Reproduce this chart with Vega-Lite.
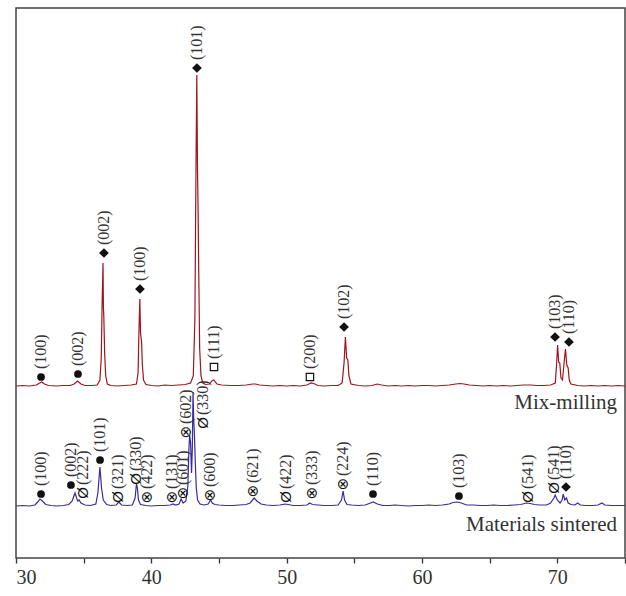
{
  "$schema": "https://vega.github.io/schema/vega-lite/v6.json",
  "width": 609,
  "height": 550,
  "autosize": "none",
  "padding": {"left": 16, "top": 8, "right": 1, "bottom": 38},
  "background": "white",
  "config": {
    "view": {"stroke": "#444", "strokeWidth": 1.5},
    "font": "Liberation Serif"
  },
  "datasets": {
    "pattern": [
      {"s": "Mix-milling", "x": 30.0, "y": 172}, {"s": "Mix-milling", "x": 30.5, "y": 172.5}, {"s": "Mix-milling", "x": 31.0, "y": 172}, {"s": "Mix-milling", "x": 31.5, "y": 173},
      {"s": "Mix-milling", "x": 31.75, "y": 175}, {"s": "Mix-milling", "x": 31.9, "y": 176}, {"s": "Mix-milling", "x": 32.1, "y": 174}, {"s": "Mix-milling", "x": 32.4, "y": 172.5},
      {"s": "Mix-milling", "x": 33.0, "y": 172}, {"s": "Mix-milling", "x": 33.5, "y": 172.5}, {"s": "Mix-milling", "x": 34.0, "y": 172.5}, {"s": "Mix-milling", "x": 34.3, "y": 174},
      {"s": "Mix-milling", "x": 34.55, "y": 177}, {"s": "Mix-milling", "x": 34.8, "y": 174}, {"s": "Mix-milling", "x": 35.1, "y": 172.5}, {"s": "Mix-milling", "x": 35.6, "y": 172.5},
      {"s": "Mix-milling", "x": 36.0, "y": 173}, {"s": "Mix-milling", "x": 36.2, "y": 178}, {"s": "Mix-milling", "x": 36.3, "y": 200}, {"s": "Mix-milling", "x": 36.37, "y": 260},
      {"s": "Mix-milling", "x": 36.43, "y": 295}, {"s": "Mix-milling", "x": 36.46, "y": 250}, {"s": "Mix-milling", "x": 36.49, "y": 241}, {"s": "Mix-milling", "x": 36.55, "y": 205},
      {"s": "Mix-milling", "x": 36.63, "y": 182}, {"s": "Mix-milling", "x": 36.75, "y": 174}, {"s": "Mix-milling", "x": 37.0, "y": 172.5}, {"s": "Mix-milling", "x": 37.5, "y": 172},
      {"s": "Mix-milling", "x": 38.0, "y": 172.5}, {"s": "Mix-milling", "x": 38.5, "y": 173}, {"s": "Mix-milling", "x": 38.9, "y": 174}, {"s": "Mix-milling", "x": 39.02, "y": 185},
      {"s": "Mix-milling", "x": 39.09, "y": 230}, {"s": "Mix-milling", "x": 39.15, "y": 259}, {"s": "Mix-milling", "x": 39.2, "y": 225}, {"s": "Mix-milling", "x": 39.28, "y": 216},
      {"s": "Mix-milling", "x": 39.33, "y": 195}, {"s": "Mix-milling", "x": 39.42, "y": 178}, {"s": "Mix-milling", "x": 39.6, "y": 173.5}, {"s": "Mix-milling", "x": 40.0, "y": 172.5},
      {"s": "Mix-milling", "x": 40.5, "y": 172}, {"s": "Mix-milling", "x": 41.0, "y": 173}, {"s": "Mix-milling", "x": 41.5, "y": 172.5}, {"s": "Mix-milling", "x": 42.0, "y": 173},
      {"s": "Mix-milling", "x": 42.5, "y": 173.5}, {"s": "Mix-milling", "x": 42.9, "y": 175}, {"s": "Mix-milling", "x": 43.1, "y": 182}, {"s": "Mix-milling", "x": 43.22, "y": 240},
      {"s": "Mix-milling", "x": 43.3, "y": 390}, {"s": "Mix-milling", "x": 43.36, "y": 483}, {"s": "Mix-milling", "x": 43.41, "y": 390}, {"s": "Mix-milling", "x": 43.46, "y": 343},
      {"s": "Mix-milling", "x": 43.5, "y": 290}, {"s": "Mix-milling", "x": 43.57, "y": 210}, {"s": "Mix-milling", "x": 43.67, "y": 182}, {"s": "Mix-milling", "x": 43.8, "y": 175},
      {"s": "Mix-milling", "x": 44.0, "y": 173.5}, {"s": "Mix-milling", "x": 44.3, "y": 174}, {"s": "Mix-milling", "x": 44.5, "y": 177.5}, {"s": "Mix-milling", "x": 44.62, "y": 178},
      {"s": "Mix-milling", "x": 44.85, "y": 174}, {"s": "Mix-milling", "x": 45.2, "y": 173}, {"s": "Mix-milling", "x": 45.8, "y": 172.5}, {"s": "Mix-milling", "x": 46.5, "y": 172.5},
      {"s": "Mix-milling", "x": 47.0, "y": 173}, {"s": "Mix-milling", "x": 47.5, "y": 174}, {"s": "Mix-milling", "x": 47.7, "y": 174}, {"s": "Mix-milling", "x": 48.0, "y": 173},
      {"s": "Mix-milling", "x": 48.5, "y": 172.5}, {"s": "Mix-milling", "x": 49.0, "y": 172}, {"s": "Mix-milling", "x": 49.5, "y": 172.5}, {"s": "Mix-milling", "x": 50.0, "y": 172},
      {"s": "Mix-milling", "x": 50.5, "y": 172.5}, {"s": "Mix-milling", "x": 51.0, "y": 172}, {"s": "Mix-milling", "x": 51.5, "y": 173}, {"s": "Mix-milling", "x": 51.8, "y": 175},
      {"s": "Mix-milling", "x": 52.0, "y": 174.5}, {"s": "Mix-milling", "x": 52.3, "y": 172.5}, {"s": "Mix-milling", "x": 52.8, "y": 172}, {"s": "Mix-milling", "x": 53.3, "y": 172.5},
      {"s": "Mix-milling", "x": 53.8, "y": 172.5}, {"s": "Mix-milling", "x": 54.1, "y": 175}, {"s": "Mix-milling", "x": 54.24, "y": 195}, {"s": "Mix-milling", "x": 54.34, "y": 221},
      {"s": "Mix-milling", "x": 54.43, "y": 200}, {"s": "Mix-milling", "x": 54.52, "y": 198}, {"s": "Mix-milling", "x": 54.6, "y": 182}, {"s": "Mix-milling", "x": 54.75, "y": 174},
      {"s": "Mix-milling", "x": 55.3, "y": 172.5}, {"s": "Mix-milling", "x": 55.8, "y": 172}, {"s": "Mix-milling", "x": 56.3, "y": 172.5}, {"s": "Mix-milling", "x": 56.7, "y": 174},
      {"s": "Mix-milling", "x": 57.0, "y": 173}, {"s": "Mix-milling", "x": 57.5, "y": 172}, {"s": "Mix-milling", "x": 58.0, "y": 172.5}, {"s": "Mix-milling", "x": 58.5, "y": 172},
      {"s": "Mix-milling", "x": 59.0, "y": 172.5}, {"s": "Mix-milling", "x": 59.5, "y": 172}, {"s": "Mix-milling", "x": 60.0, "y": 172.5}, {"s": "Mix-milling", "x": 60.5, "y": 172.5},
      {"s": "Mix-milling", "x": 61.0, "y": 172}, {"s": "Mix-milling", "x": 61.5, "y": 172.5}, {"s": "Mix-milling", "x": 62.0, "y": 173}, {"s": "Mix-milling", "x": 62.5, "y": 174},
      {"s": "Mix-milling", "x": 62.8, "y": 174.5}, {"s": "Mix-milling", "x": 63.1, "y": 174}, {"s": "Mix-milling", "x": 63.5, "y": 173}, {"s": "Mix-milling", "x": 64.0, "y": 172.5},
      {"s": "Mix-milling", "x": 64.5, "y": 172}, {"s": "Mix-milling", "x": 65.0, "y": 172.5}, {"s": "Mix-milling", "x": 65.5, "y": 172}, {"s": "Mix-milling", "x": 66.0, "y": 172.5},
      {"s": "Mix-milling", "x": 66.5, "y": 172}, {"s": "Mix-milling", "x": 67.0, "y": 172.5}, {"s": "Mix-milling", "x": 67.5, "y": 173}, {"s": "Mix-milling", "x": 68.0, "y": 173},
      {"s": "Mix-milling", "x": 68.5, "y": 172.5}, {"s": "Mix-milling", "x": 69.0, "y": 172.5}, {"s": "Mix-milling", "x": 69.5, "y": 173}, {"s": "Mix-milling", "x": 69.85, "y": 175},
      {"s": "Mix-milling", "x": 69.95, "y": 195}, {"s": "Mix-milling", "x": 70.02, "y": 213}, {"s": "Mix-milling", "x": 70.1, "y": 196}, {"s": "Mix-milling", "x": 70.18, "y": 195},
      {"s": "Mix-milling", "x": 70.27, "y": 180}, {"s": "Mix-milling", "x": 70.38, "y": 178}, {"s": "Mix-milling", "x": 70.5, "y": 195}, {"s": "Mix-milling", "x": 70.6, "y": 209},
      {"s": "Mix-milling", "x": 70.7, "y": 193}, {"s": "Mix-milling", "x": 70.8, "y": 190}, {"s": "Mix-milling", "x": 70.88, "y": 178}, {"s": "Mix-milling", "x": 71.0, "y": 174},
      {"s": "Mix-milling", "x": 71.5, "y": 172.5}, {"s": "Mix-milling", "x": 72.0, "y": 172}, {"s": "Mix-milling", "x": 72.5, "y": 172.5}, {"s": "Mix-milling", "x": 73.0, "y": 172},
      {"s": "Mix-milling", "x": 73.5, "y": 172.5}, {"s": "Mix-milling", "x": 74.0, "y": 172}, {"s": "Mix-milling", "x": 74.5, "y": 172.5}, {"s": "Mix-milling", "x": 75.0, "y": 172},

      {"s": "Materials sintered", "x": 30.0, "y": 52}, {"s": "Materials sintered", "x": 30.5, "y": 52.5}, {"s": "Materials sintered", "x": 31.0, "y": 52}, {"s": "Materials sintered", "x": 31.4, "y": 53},
      {"s": "Materials sintered", "x": 31.6, "y": 56}, {"s": "Materials sintered", "x": 31.77, "y": 59}, {"s": "Materials sintered", "x": 31.95, "y": 57}, {"s": "Materials sintered", "x": 32.2, "y": 53.5},
      {"s": "Materials sintered", "x": 32.6, "y": 52.5}, {"s": "Materials sintered", "x": 33.0, "y": 52}, {"s": "Materials sintered", "x": 33.5, "y": 52.5}, {"s": "Materials sintered", "x": 33.9, "y": 53.5},
      {"s": "Materials sintered", "x": 34.15, "y": 57}, {"s": "Materials sintered", "x": 34.36, "y": 65}, {"s": "Materials sintered", "x": 34.5, "y": 59}, {"s": "Materials sintered", "x": 34.57, "y": 57},
      {"s": "Materials sintered", "x": 34.66, "y": 58}, {"s": "Materials sintered", "x": 34.8, "y": 55}, {"s": "Materials sintered", "x": 35.1, "y": 53}, {"s": "Materials sintered", "x": 35.5, "y": 52.5},
      {"s": "Materials sintered", "x": 35.9, "y": 54}, {"s": "Materials sintered", "x": 36.05, "y": 65}, {"s": "Materials sintered", "x": 36.2, "y": 91}, {"s": "Materials sintered", "x": 36.32, "y": 70},
      {"s": "Materials sintered", "x": 36.45, "y": 58}, {"s": "Materials sintered", "x": 36.7, "y": 53.5}, {"s": "Materials sintered", "x": 37.0, "y": 52.5}, {"s": "Materials sintered", "x": 37.4, "y": 53},
      {"s": "Materials sintered", "x": 37.6, "y": 56}, {"s": "Materials sintered", "x": 37.8, "y": 53}, {"s": "Materials sintered", "x": 38.2, "y": 52.5}, {"s": "Materials sintered", "x": 38.6, "y": 53},
      {"s": "Materials sintered", "x": 38.8, "y": 60}, {"s": "Materials sintered", "x": 38.9, "y": 74}, {"s": "Materials sintered", "x": 38.97, "y": 70}, {"s": "Materials sintered", "x": 39.05, "y": 58},
      {"s": "Materials sintered", "x": 39.2, "y": 53.5}, {"s": "Materials sintered", "x": 39.6, "y": 52.5}, {"s": "Materials sintered", "x": 40.0, "y": 52}, {"s": "Materials sintered", "x": 40.5, "y": 52.5},
      {"s": "Materials sintered", "x": 41.0, "y": 52.5}, {"s": "Materials sintered", "x": 41.4, "y": 53}, {"s": "Materials sintered", "x": 41.6, "y": 54}, {"s": "Materials sintered", "x": 41.8, "y": 53},
      {"s": "Materials sintered", "x": 42.05, "y": 54}, {"s": "Materials sintered", "x": 42.2, "y": 59}, {"s": "Materials sintered", "x": 42.35, "y": 55}, {"s": "Materials sintered", "x": 42.55, "y": 57},
      {"s": "Materials sintered", "x": 42.7, "y": 72}, {"s": "Materials sintered", "x": 42.78, "y": 110}, {"s": "Materials sintered", "x": 42.83, "y": 123}, {"s": "Materials sintered", "x": 42.9, "y": 115},
      {"s": "Materials sintered", "x": 42.97, "y": 85}, {"s": "Materials sintered", "x": 43.03, "y": 110}, {"s": "Materials sintered", "x": 43.08, "y": 166}, {"s": "Materials sintered", "x": 43.13, "y": 140},
      {"s": "Materials sintered", "x": 43.19, "y": 121}, {"s": "Materials sintered", "x": 43.25, "y": 95}, {"s": "Materials sintered", "x": 43.32, "y": 70}, {"s": "Materials sintered", "x": 43.42, "y": 58},
      {"s": "Materials sintered", "x": 43.6, "y": 54}, {"s": "Materials sintered", "x": 43.9, "y": 53}, {"s": "Materials sintered", "x": 44.2, "y": 54}, {"s": "Materials sintered", "x": 44.38, "y": 58},
      {"s": "Materials sintered", "x": 44.5, "y": 55}, {"s": "Materials sintered", "x": 44.7, "y": 53.5}, {"s": "Materials sintered", "x": 45.0, "y": 53}, {"s": "Materials sintered", "x": 45.5, "y": 52.5},
      {"s": "Materials sintered", "x": 46.0, "y": 52.5}, {"s": "Materials sintered", "x": 46.5, "y": 53}, {"s": "Materials sintered", "x": 47.0, "y": 53.5}, {"s": "Materials sintered", "x": 47.3, "y": 55},
      {"s": "Materials sintered", "x": 47.6, "y": 60}, {"s": "Materials sintered", "x": 47.8, "y": 57}, {"s": "Materials sintered", "x": 48.1, "y": 54}, {"s": "Materials sintered", "x": 48.5, "y": 53},
      {"s": "Materials sintered", "x": 49.0, "y": 52.5}, {"s": "Materials sintered", "x": 49.5, "y": 53}, {"s": "Materials sintered", "x": 49.9, "y": 54}, {"s": "Materials sintered", "x": 50.1, "y": 53.5},
      {"s": "Materials sintered", "x": 50.5, "y": 52.5}, {"s": "Materials sintered", "x": 51.0, "y": 52.5}, {"s": "Materials sintered", "x": 51.5, "y": 53}, {"s": "Materials sintered", "x": 51.7, "y": 55},
      {"s": "Materials sintered", "x": 51.9, "y": 53.5}, {"s": "Materials sintered", "x": 52.3, "y": 53}, {"s": "Materials sintered", "x": 52.8, "y": 52.5}, {"s": "Materials sintered", "x": 53.3, "y": 52.5},
      {"s": "Materials sintered", "x": 53.8, "y": 53}, {"s": "Materials sintered", "x": 54.05, "y": 58}, {"s": "Materials sintered", "x": 54.17, "y": 67}, {"s": "Materials sintered", "x": 54.28, "y": 58},
      {"s": "Materials sintered", "x": 54.45, "y": 53.5}, {"s": "Materials sintered", "x": 54.8, "y": 53}, {"s": "Materials sintered", "x": 55.3, "y": 52.5}, {"s": "Materials sintered", "x": 55.8, "y": 53},
      {"s": "Materials sintered", "x": 56.1, "y": 54.5}, {"s": "Materials sintered", "x": 56.4, "y": 56}, {"s": "Materials sintered", "x": 56.7, "y": 54}, {"s": "Materials sintered", "x": 57.1, "y": 52.5},
      {"s": "Materials sintered", "x": 57.6, "y": 52.5}, {"s": "Materials sintered", "x": 58.0, "y": 53}, {"s": "Materials sintered", "x": 58.5, "y": 52.5}, {"s": "Materials sintered", "x": 59.0, "y": 52},
      {"s": "Materials sintered", "x": 59.5, "y": 52.5}, {"s": "Materials sintered", "x": 60.0, "y": 52.5}, {"s": "Materials sintered", "x": 60.5, "y": 53}, {"s": "Materials sintered", "x": 61.0, "y": 52.5},
      {"s": "Materials sintered", "x": 61.5, "y": 53}, {"s": "Materials sintered", "x": 62.0, "y": 54}, {"s": "Materials sintered", "x": 62.3, "y": 55.5}, {"s": "Materials sintered", "x": 62.6, "y": 56},
      {"s": "Materials sintered", "x": 62.9, "y": 55}, {"s": "Materials sintered", "x": 63.3, "y": 53}, {"s": "Materials sintered", "x": 63.8, "y": 53}, {"s": "Materials sintered", "x": 64.3, "y": 52.5},
      {"s": "Materials sintered", "x": 64.8, "y": 52.5}, {"s": "Materials sintered", "x": 65.3, "y": 53}, {"s": "Materials sintered", "x": 65.8, "y": 52.5}, {"s": "Materials sintered", "x": 66.3, "y": 52.5},
      {"s": "Materials sintered", "x": 66.8, "y": 53}, {"s": "Materials sintered", "x": 67.3, "y": 53.5}, {"s": "Materials sintered", "x": 67.7, "y": 55}, {"s": "Materials sintered", "x": 68.0, "y": 54.5},
      {"s": "Materials sintered", "x": 68.3, "y": 53.5}, {"s": "Materials sintered", "x": 68.7, "y": 53}, {"s": "Materials sintered", "x": 69.2, "y": 53}, {"s": "Materials sintered", "x": 69.5, "y": 55},
      {"s": "Materials sintered", "x": 69.75, "y": 60}, {"s": "Materials sintered", "x": 69.84, "y": 63}, {"s": "Materials sintered", "x": 70.0, "y": 58}, {"s": "Materials sintered", "x": 70.2, "y": 55},
      {"s": "Materials sintered", "x": 70.35, "y": 58}, {"s": "Materials sintered", "x": 70.43, "y": 64}, {"s": "Materials sintered", "x": 70.55, "y": 58}, {"s": "Materials sintered", "x": 70.68, "y": 60},
      {"s": "Materials sintered", "x": 70.8, "y": 55}, {"s": "Materials sintered", "x": 71.0, "y": 53.5}, {"s": "Materials sintered", "x": 71.3, "y": 53}, {"s": "Materials sintered", "x": 71.5, "y": 55},
      {"s": "Materials sintered", "x": 71.7, "y": 53}, {"s": "Materials sintered", "x": 72.1, "y": 52.5}, {"s": "Materials sintered", "x": 72.6, "y": 52.5}, {"s": "Materials sintered", "x": 73.0, "y": 53},
      {"s": "Materials sintered", "x": 73.3, "y": 55}, {"s": "Materials sintered", "x": 73.5, "y": 53}, {"s": "Materials sintered", "x": 74.0, "y": 52.5}, {"s": "Materials sintered", "x": 74.5, "y": 52.5},
      {"s": "Materials sintered", "x": 75.0, "y": 52.5}
    ],
    "peaks": [
      {"x": 31.85, "y": 181, "m": "●", "hkl": "(100)"},
      {"x": 34.58, "y": 184, "m": "●", "hkl": "(002)"},
      {"x": 36.5, "y": 305, "m": "◆", "hkl": "(002)"},
      {"x": 39.16, "y": 269, "m": "◆", "hkl": "(100)"},
      {"x": 43.37, "y": 490, "m": "◆", "hkl": "(101)"},
      {"x": 44.63, "y": 191, "m": "□", "hkl": "(111)"},
      {"x": 51.72, "y": 181, "m": "□", "hkl": "(200)"},
      {"x": 54.24, "y": 231, "m": "◆", "hkl": "(102)"},
      {"x": 69.83, "y": 221, "m": "◆", "hkl": "(103)"},
      {"x": 70.86, "y": 216, "m": "◆", "hkl": "(110)"},
      {"x": 31.85, "y": 64, "m": "●", "hkl": "(100)"},
      {"x": 34.06, "y": 73, "m": "●", "hkl": "(002)"},
      {"x": 34.95, "y": 65, "m": "Ø", "hkl": "(222)"},
      {"x": 36.21, "y": 98, "m": "●", "hkl": "(101)"},
      {"x": 37.54, "y": 61, "m": "Ø", "hkl": "(321)"},
      {"x": 38.87, "y": 79, "m": "Ø", "hkl": "(330)"},
      {"x": 39.68, "y": 61, "m": "⊗", "hkl": "(422)"},
      {"x": 41.53, "y": 61, "m": "⊗", "hkl": "(131)"},
      {"x": 42.34, "y": 65, "m": "⊗", "hkl": "(601)"},
      {"x": 42.56, "y": 126, "m": "⊗", "hkl": "(602)"},
      {"x": 43.82, "y": 135, "m": "Ø", "hkl": "(330)"},
      {"x": 44.34, "y": 63, "m": "⊗", "hkl": "(600)"},
      {"x": 47.51, "y": 67, "m": "⊗", "hkl": "(621)"},
      {"x": 49.95, "y": 61, "m": "Ø", "hkl": "(422)"},
      {"x": 51.87, "y": 65, "m": "⊗", "hkl": "(333)"},
      {"x": 54.16, "y": 74, "m": "⊗", "hkl": "(224)"},
      {"x": 56.38, "y": 64, "m": "●", "hkl": "(110)"},
      {"x": 62.73, "y": 62, "m": "●", "hkl": "(103)"},
      {"x": 67.83, "y": 61, "m": "Ø", "hkl": "(541)"},
      {"x": 69.75, "y": 70, "m": "Ø", "hkl": "(541)"},
      {"x": 70.64, "y": 71, "m": "◆", "hkl": "(110)"}
    ],
    "names": [
      {"x": 74.41, "y": 149, "name": "Mix-milling"},
      {"x": 74.41, "y": 27, "name": "Materials sintered"}
    ]
  },
  "encoding": {
    "x": {
      "field": "x", "type": "quantitative",
      "scale": {"domain": [30, 75], "nice": false, "zero": false},
      "axis": {
        "title": null, "values": [30, 35, 40, 45, 50, 55, 60, 65, 70, 75],
        "labelExpr": "datum.value % 10 == 0 ? datum.label : ''",
        "domain": false, "grid": false,
        "tickColor": "#333", "tickSize": 5, "tickWidth": 1.3,
        "labelFont": "Liberation Serif", "labelFontSize": 20, "labelColor": "#333",
        "labelPadding": 4
      }
    },
    "y": {
      "field": "y", "type": "quantitative",
      "scale": {"domain": [0, 550], "nice": false, "zero": false},
      "axis": null
    }
  },
  "layer": [
    {
      "data": {"name": "pattern"},
      "mark": {"type": "line", "strokeWidth": 1.2, "interpolate": "linear"},
      "encoding": {
        "color": {
          "field": "s", "type": "nominal", "legend": null,
          "scale": {"domain": ["Mix-milling", "Materials sintered"], "range": ["#a0141e", "#3a2a9e"]}
        }
      }
    },
    {
      "data": {"name": "peaks"},
      "transform": [{"filter": "datum.m == '●'"}],
      "mark": {"type": "point", "shape": "circle", "filled": true, "size": 60, "color": "#111", "opacity": 1}
    },
    {
      "data": {"name": "peaks"},
      "transform": [{"filter": "datum.m == '◆'"}],
      "mark": {"type": "point", "shape": "diamond", "filled": true, "size": 95, "color": "#111", "opacity": 1}
    },
    {
      "data": {"name": "peaks"},
      "transform": [{"filter": "datum.m == '□'"}],
      "mark": {"type": "point", "shape": "square", "filled": false, "size": 55, "color": "#111", "strokeWidth": 1.2, "opacity": 1}
    },
    {
      "data": {"name": "peaks"},
      "transform": [{"filter": "datum.m == '⊗'"}],
      "mark": {"type": "text", "font": "DejaVu Sans", "fontSize": 15, "align": "center", "baseline": "middle", "color": "#111"},
      "encoding": {"text": {"field": "m"}}
    },
    {
      "data": {"name": "peaks"},
      "transform": [{"filter": "datum.m == 'Ø'"}],
      "mark": {"type": "text", "font": "Liberation Sans", "fontSize": 15, "angle": -90, "align": "center", "baseline": "middle", "color": "#111"},
      "encoding": {"text": {"field": "m"}}
    },
    {
      "data": {"name": "peaks"},
      "mark": {"type": "text", "font": "Liberation Serif", "fontSize": 16, "angle": -90, "align": "left", "baseline": "middle", "dx": 8, "color": "#333"},
      "encoding": {"text": {"field": "hkl"}}
    },
    {
      "data": {"name": "names"},
      "mark": {"type": "text", "font": "Liberation Serif", "fontSize": 21, "align": "right", "baseline": "alphabetic", "color": "#333"},
      "encoding": {"text": {"field": "name"}}
    }
  ]
}
